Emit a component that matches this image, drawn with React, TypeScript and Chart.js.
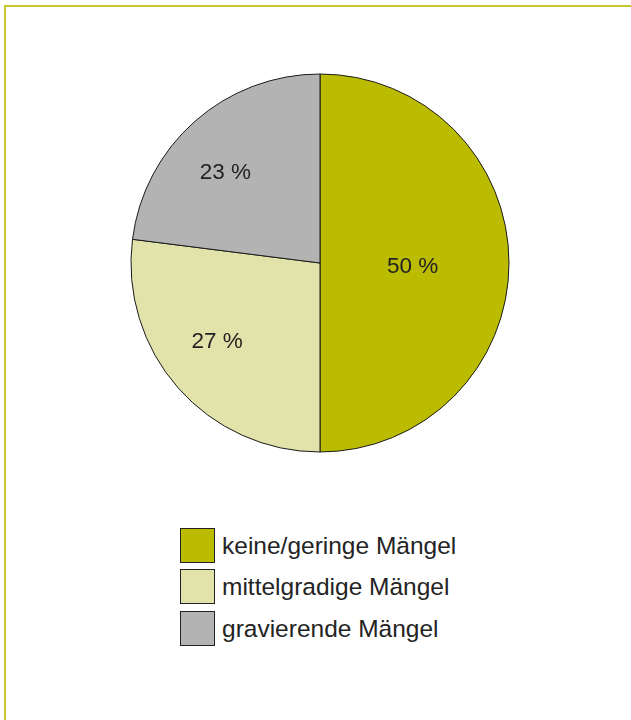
import React, { useEffect, useRef } from "react";
import { Chart, registerables } from "chart.js";

Chart.register(...registerables);

const categories = ["keine/geringe Mängel", "mittelgradige Mängel", "gravierende Mängel"];
const values = [50, 27, 23];
const valueLabels = ["50 %", "27 %", "23 %"];
const colors = ["#bbbb00", "#e2e2ab", "#b3b3b3"];

// label placement (radial fraction of radius, angle nudge in degrees)
const labelRadius = [0.49, 0.68, 0.7];
const labelNudge = [1.0, 4.6, -4.2];

const FONT = "'Liberation Sans', Arial, Helvetica, sans-serif";

const sliceLabels = {
  id: "sliceLabels",
  afterDatasetsDraw(chart: any) {
    const ctx = chart.ctx;
    const meta = chart.getDatasetMeta(0);
    ctx.save();
    ctx.font = `22.5px ${FONT}`;
    ctx.fillStyle = "#222222";
    ctx.textAlign = "center";
    ctx.textBaseline = "middle";
    meta.data.forEach((arc: any, i: number) => {
      const { x, y, startAngle, endAngle, outerRadius } = arc.getProps(
        ["x", "y", "startAngle", "endAngle", "outerRadius"],
        true
      );
      const mid = (startAngle + endAngle) / 2 + (labelNudge[i] * Math.PI) / 180;
      const r = outerRadius * labelRadius[i];
      ctx.fillText(valueLabels[i], x + Math.cos(mid) * r, y + Math.sin(mid) * r + 2);
    });
    ctx.restore();
  },
};

export default function App() {
  const ref = useRef<HTMLCanvasElement>(null);
  useEffect(() => {
    if (!ref.current) return;
    const chart = new Chart(ref.current, {
      type: "pie",
      data: {
        labels: categories,
        datasets: [
          {
            data: values,
            backgroundColor: colors,
            borderColor: "#1a1a1a",
            borderWidth: 1,
            hoverOffset: 0,
          },
        ],
      },
      options: {
        responsive: false,
        maintainAspectRatio: false,
        animation: false,
        radius: 189,
        layout: { padding: { left: 9, right: 0, top: 0, bottom: 0 } },
        plugins: {
          legend: { display: false },
          tooltip: { enabled: false },
        },
      } as any,
      plugins: [sliceLabels],
    });
    return () => chart.destroy();
  }, []);

  const rowTops = [528, 569, 611];

  return (
    <div
      style={{
        position: "absolute",
        left: 0,
        top: 0,
        width: 631,
        height: 720,
        overflow: "hidden",
        background: "#ffffff",
      }}
    >
      <div
        style={{
          position: "absolute",
          left: 4,
          top: 5,
          width: 700,
          height: 800,
          borderLeft: "2px solid #c6c82c",
          borderTop: "2px solid #c6c82c",
        }}
      />
      <canvas
        ref={ref}
        width={631}
        height={526}
        style={{ position: "absolute", left: 0, top: 0, width: 631, height: 526 }}
      />
      {categories.map((c, i) => (
        <div key={c}>
          <div
            style={{
              position: "absolute",
              left: 180,
              top: rowTops[i],
              width: 33,
              height: 33,
              background: colors[i],
              border: "1px solid #222",
            }}
          />
          <div
            style={{
              position: "absolute",
              left: 222,
              top: rowTops[i],
              height: 35,
              lineHeight: "35px",
              fontFamily: FONT,
              fontSize: 24.5,
              color: "#242424",
              whiteSpace: "nowrap",
            }}
          >
            {c}
          </div>
        </div>
      ))}
    </div>
  );
}
